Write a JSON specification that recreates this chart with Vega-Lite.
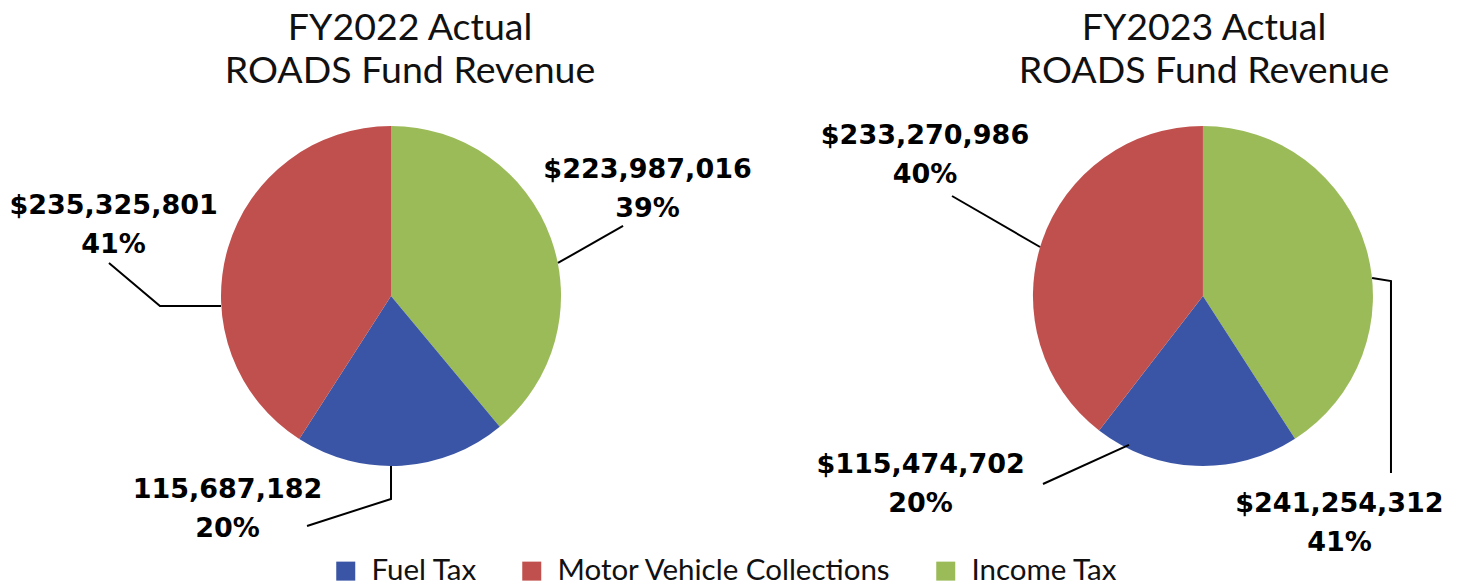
{
  "$schema": "https://vega.github.io/schema/vega-lite/v6.json",
  "width": 1460,
  "height": 587,
  "autosize": {"type": "none"},
  "padding": 0,
  "background": "white",
  "config": {
    "view": {"stroke": null},
    "legend": {
      "orient": "none",
      "legendX": 331,
      "legendY": 556,
      "direction": "horizontal",
      "padding": 0,
      "symbolType": "square",
      "symbolSize": 361,
      "symbolStrokeWidth": 0,
      "symbolOpacity": 1,
      "labelFont": "Lato",
      "labelFontSize": 29.5,
      "labelColor": "#111111",
      "labelOffset": 11,
      "labelLimit": 0,
      "columnPadding": 39
    }
  },
  "datasets": {
    "revenue": [
      {"year": "FY2022", "source": "Income Tax", "amount": 223987016, "slice": 1},
      {"year": "FY2022", "source": "Fuel Tax", "amount": 115687182, "slice": 2},
      {"year": "FY2022", "source": "Motor Vehicle Collections", "amount": 235325801, "slice": 3},
      {"year": "FY2023", "source": "Income Tax", "amount": 241254312, "slice": 1},
      {"year": "FY2023", "source": "Fuel Tax", "amount": 115474702, "slice": 2},
      {"year": "FY2023", "source": "Motor Vehicle Collections", "amount": 233270986, "slice": 3}
    ],
    "callouts": [
      {"year": "FY2022", "source": "Income Tax", "label": "$223,987,016\n39%", "x": 1.509, "y": 0.694},
      {"year": "FY2022", "source": "Motor Vehicle Collections", "label": "$235,325,801\n41%", "x": -1.632, "y": 0.482},
      {"year": "FY2022", "source": "Fuel Tax", "label": "115,687,182\n20%", "x": -0.962, "y": -1.188},
      {"year": "FY2023", "source": "Motor Vehicle Collections", "label": "$233,270,986\n40%", "x": 3.141, "y": 0.894},
      {"year": "FY2023", "source": "Fuel Tax", "label": "$115,474,702\n20%", "x": 3.115, "y": -1.041},
      {"year": "FY2023", "source": "Income Tax", "label": "$241,254,312\n41%", "x": 5.579, "y": -1.271}
    ],
    "leaders": [
      {"id": "L-income", "pt": 1, "x": 0.982, "y": 0.194},
      {"id": "L-income", "pt": 2, "x": 1.365, "y": 0.412},
      {"id": "L-motor", "pt": 1, "x": -1.0, "y": -0.059},
      {"id": "L-motor", "pt": 2, "x": -1.359, "y": -0.059},
      {"id": "L-motor", "pt": 3, "x": -1.659, "y": 0.194},
      {"id": "L-fuel", "pt": 1, "x": 0.0, "y": -1.0},
      {"id": "L-fuel", "pt": 2, "x": 0.0, "y": -1.194},
      {"id": "L-fuel", "pt": 3, "x": -0.494, "y": -1.353},
      {"id": "R-motor", "pt": 1, "x": 3.818, "y": 0.288},
      {"id": "R-motor", "pt": 2, "x": 3.3, "y": 0.588},
      {"id": "R-fuel", "pt": 1, "x": 4.341, "y": -0.876},
      {"id": "R-fuel", "pt": 2, "x": 3.835, "y": -1.106},
      {"id": "R-income", "pt": 1, "x": 5.771, "y": 0.106},
      {"id": "R-income", "pt": 2, "x": 5.882, "y": 0.088},
      {"id": "R-income", "pt": 3, "x": 5.882, "y": -1.041}
    ]
  },
  "layer": [
    {
      "data": {"name": "revenue"},
      "transform": [{"filter": "datum.year === 'FY2022'"}],
      "mark": {"type": "arc", "radius": 170, "stroke": null},
      "encoding": {
        "x": {"datum": 0, "type": "quantitative", "scale": {"domain": [-2.3, 6.288], "nice": false, "zero": false}, "axis": null},
        "y": {"datum": 0, "type": "quantitative", "scale": {"domain": [-1.712, 1.741], "nice": false, "zero": false}, "axis": null},
        "theta": {"field": "amount", "type": "quantitative", "stack": true},
        "order": {"field": "slice", "type": "quantitative"},
        "color": {
          "field": "source",
          "type": "nominal",
          "scale": {"domain": ["Fuel Tax", "Motor Vehicle Collections", "Income Tax"], "range": ["#3A55A5", "#C0504D", "#9BBB59"]},
          "legend": {"title": null}
        }
      }
    },
    {
      "data": {"name": "revenue"},
      "transform": [{"filter": "datum.year === 'FY2023'"}],
      "mark": {"type": "arc", "radius": 170, "stroke": null},
      "encoding": {
        "x": {"datum": 4.776, "type": "quantitative", "scale": {"domain": [-2.3, 6.288], "nice": false, "zero": false}, "axis": null},
        "y": {"datum": 0, "type": "quantitative", "scale": {"domain": [-1.712, 1.741], "nice": false, "zero": false}, "axis": null},
        "theta": {"field": "amount", "type": "quantitative", "stack": true},
        "order": {"field": "slice", "type": "quantitative"},
        "color": {
          "field": "source",
          "type": "nominal",
          "scale": {"domain": ["Fuel Tax", "Motor Vehicle Collections", "Income Tax"], "range": ["#3A55A5", "#C0504D", "#9BBB59"]},
          "legend": {"title": null}
        }
      }
    },
    {
      "data": {"name": "leaders"},
      "mark": {"type": "line", "color": "#000000", "strokeWidth": 2},
      "encoding": {
        "x": {"field": "x", "type": "quantitative", "scale": {"domain": [-2.3, 6.288], "nice": false, "zero": false}, "axis": null},
        "y": {"field": "y", "type": "quantitative", "scale": {"domain": [-1.712, 1.741], "nice": false, "zero": false}, "axis": null},
        "detail": {"field": "id", "type": "nominal"},
        "order": {"field": "pt", "type": "quantitative"}
      }
    },
    {
      "data": {"name": "callouts"},
      "mark": {"type": "text", "align": "center", "baseline": "alphabetic", "lineBreak": "\n", "lineHeight": 39, "font": "DejaVu Sans", "fontWeight": "bold", "fontSize": 27, "color": "#000000"},
      "encoding": {
        "x": {"field": "x", "type": "quantitative", "scale": {"domain": [-2.3, 6.288], "nice": false, "zero": false}, "axis": null},
        "y": {"field": "y", "type": "quantitative", "scale": {"domain": [-1.712, 1.741], "nice": false, "zero": false}, "axis": null},
        "text": {"field": "label", "type": "nominal"}
      }
    },
    {
      "data": {"values": [{"year": "FY2022", "title": "FY2022 Actual\nROADS Fund Revenue"}]},
      "mark": {"type": "text", "align": "center", "baseline": "alphabetic", "lineBreak": "\n", "lineHeight": 43, "font": "Lato", "fontSize": 37.5, "color": "#111111"},
      "encoding": {
        "x": {"datum": 0.112, "type": "quantitative", "scale": {"domain": [-2.3, 6.288], "nice": false, "zero": false}, "axis": null},
        "y": {"datum": 1.506, "type": "quantitative", "scale": {"domain": [-1.712, 1.741], "nice": false, "zero": false}, "axis": null},
        "text": {"field": "title", "type": "nominal"}
      }
    },
    {
      "data": {"values": [{"year": "FY2023", "title": "FY2023 Actual\nROADS Fund Revenue"}]},
      "mark": {"type": "text", "align": "center", "baseline": "alphabetic", "lineBreak": "\n", "lineHeight": 43, "font": "Lato", "fontSize": 37.5, "color": "#111111"},
      "encoding": {
        "x": {"datum": 4.782, "type": "quantitative", "scale": {"domain": [-2.3, 6.288], "nice": false, "zero": false}, "axis": null},
        "y": {"datum": 1.506, "type": "quantitative", "scale": {"domain": [-1.712, 1.741], "nice": false, "zero": false}, "axis": null},
        "text": {"field": "title", "type": "nominal"}
      }
    }
  ],
  "resolve": {"scale": {"theta": "independent"}}
}
